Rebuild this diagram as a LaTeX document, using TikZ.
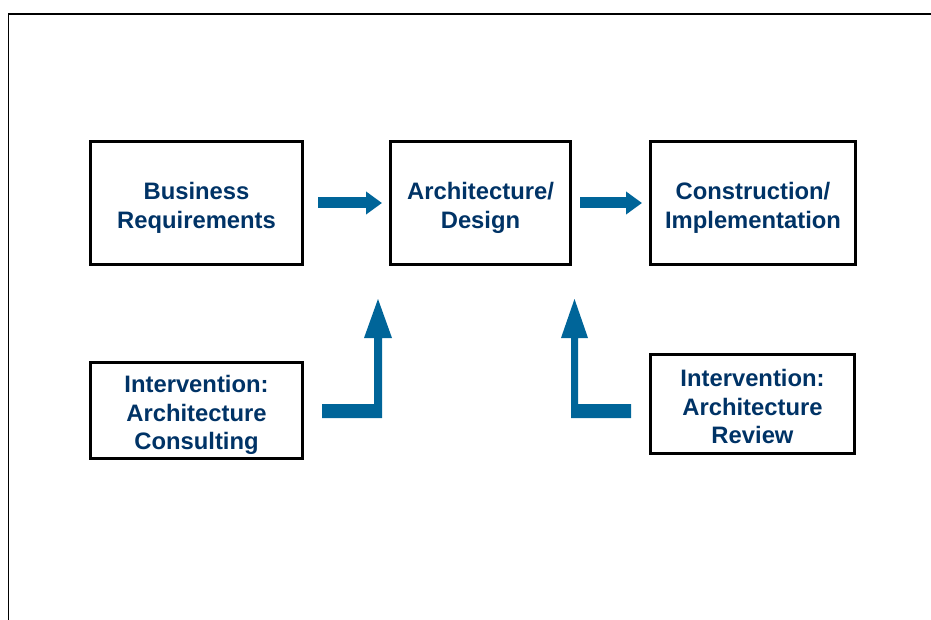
\documentclass[tikz,border=0pt]{standalone}
\usepackage{fontspec}
\setmainfont{Liberation Sans}
\usetikzlibrary{arrows.meta}
\definecolor{navytext}{RGB}{0,51,102}
\definecolor{flowblue}{RGB}{0,101,153}
\tikzset{
  stage/.style={draw=black, line width=3pt, fill=white, inner sep=0pt},
  stagetext/.style={align=center, inner sep=0pt, text=navytext,
    font=\fontsize{23.8}{28.8}\selectfont\bfseries},
  flowarrow/.style={draw=flowblue, line width=11pt,
    -{Triangle[length=16pt,width=22pt]}},
  bentarrow/.style={fill=flowblue, draw=none},
}
\begin{document}
\begin{tikzpicture}[x=1pt,y=-1pt]
\useasboundingbox (0,0) rectangle (931,620);
% page frame, open to the right and bottom
\draw[line width=1.8pt] (8.5,620) -- (8.5,14) -- (931,14);

% process stages
\node[stage, minimum width=212pt, minimum height=123pt] (br) at (196.5,203) {};
\node[stage, minimum width=180pt, minimum height=123pt] (ad) at (480.5,203) {};
\node[stage, minimum width=205pt, minimum height=123pt] (ci) at (753,203) {};
\node[stage, minimum width=212pt, minimum height=96pt] (ic) at (196.5,410.5) {};
\node[stage, minimum width=204pt, minimum height=99pt] (ir) at (752.5,404) {};

% stage labels
\node[stagetext] (br-text) at ([yshift=-5pt]br.center) {Business\\Requirements};
\node[stagetext] (ad-text) at ([yshift=-5pt]ad.center) {Architecture/\\Design};
\node[stagetext] (ci-text) at ([yshift=-5pt]ci.center) {Construction/\\Implementation};
\node[stagetext] (ic-text) at ([yshift=-4.5pt]ic.center) {Intervention:\\Architecture\\Consulting};
\node[stagetext] (ir-text) at ([yshift=-2.5pt]ir.center) {Intervention:\\Architecture\\Review};

% flow between stages
\draw[flowarrow] ([xshift=14pt]br.east) -- ([xshift=-7pt]ad.west);
\draw[flowarrow] ([xshift=8pt]ad.east) -- ([xshift=-7pt]ci.west);

% interventions feeding into the design stage
\fill[bentarrow] (322,404) -- (374,404) -- (374,338) -- (364,338) -- (378,299)
  -- (392,338) -- (382,338) -- (382,418) -- (322,418) -- cycle;
\fill[bentarrow] (631,404) -- (578,404) -- (578,338) -- (588,338) -- (574.5,299)
  -- (561,338) -- (571,338) -- (571,418) -- (631,418) -- cycle;
\end{tikzpicture}
\end{document}
